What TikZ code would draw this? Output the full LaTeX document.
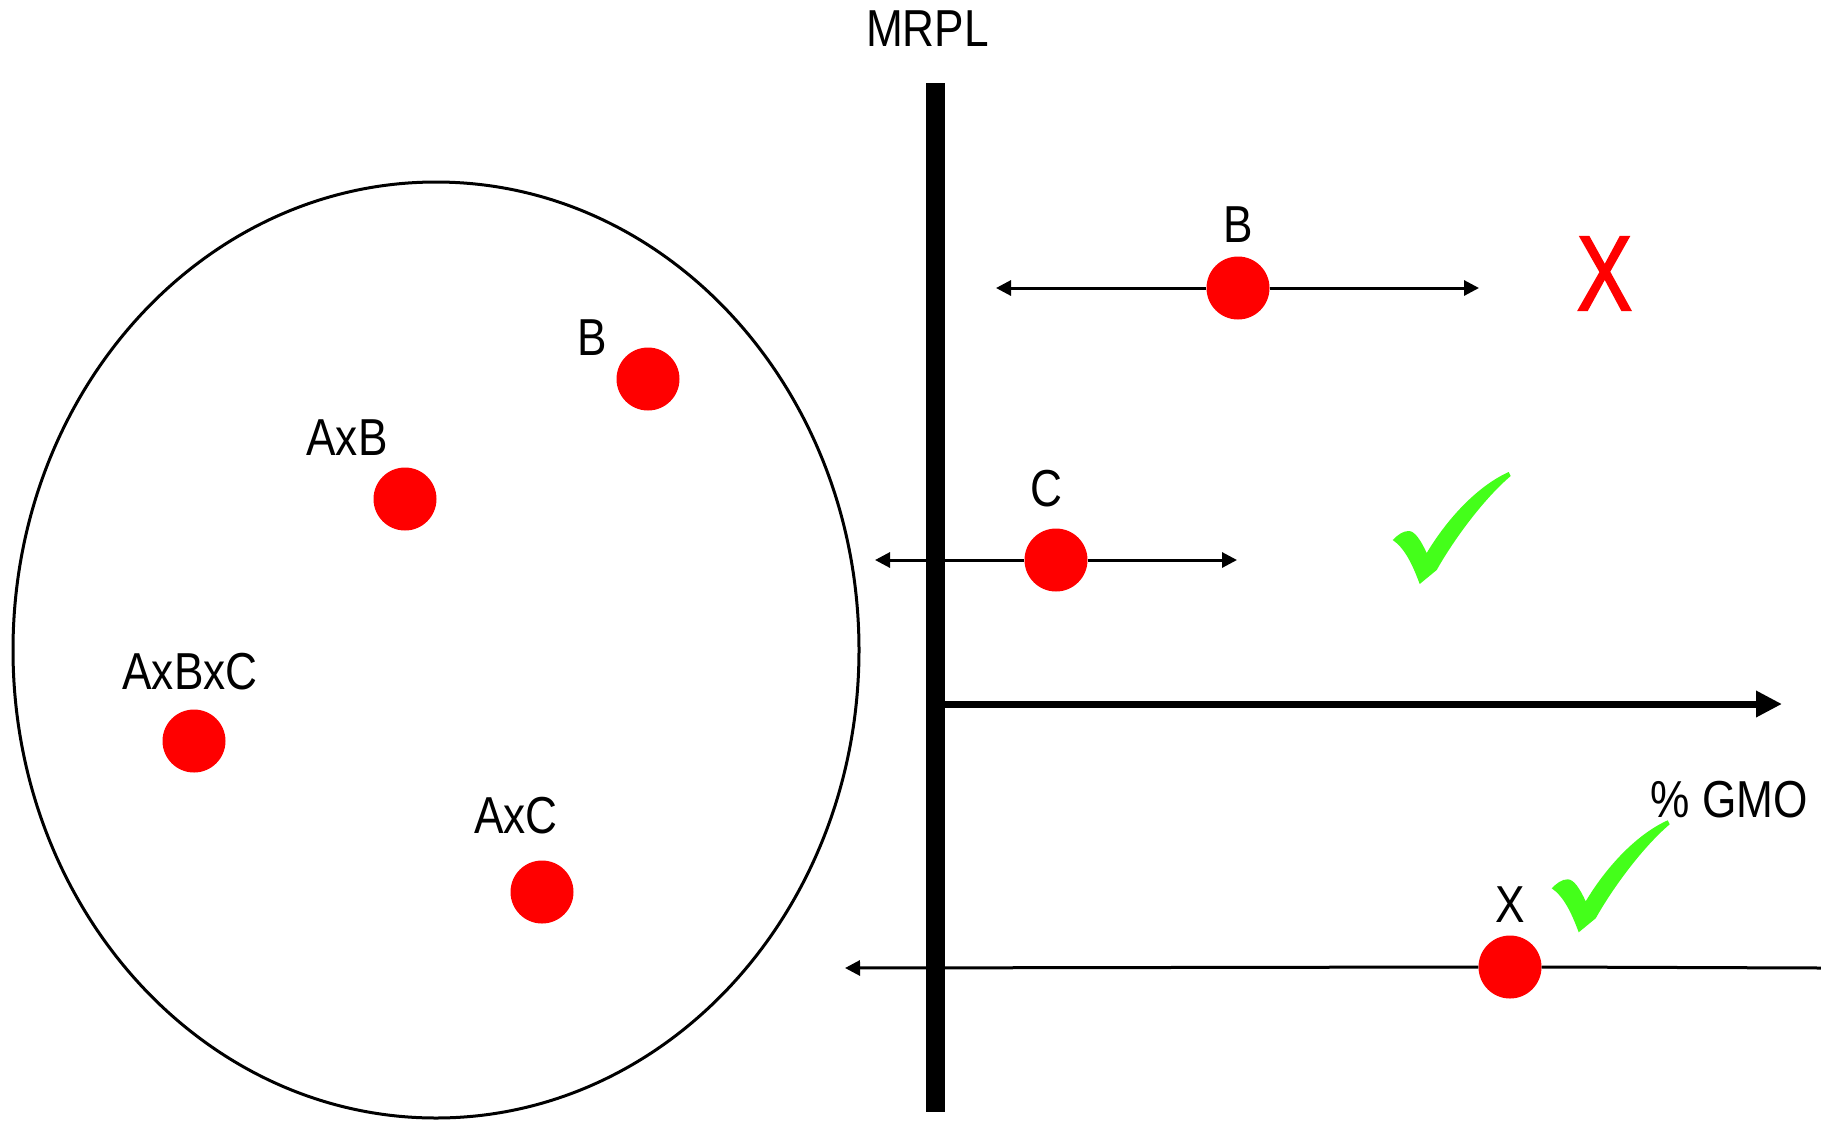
\documentclass[tikz,border=0pt]{standalone}
\usepackage{fontspec}
\setmainfont[FakeStretch=0.85]{Liberation Sans}
\newfontfamily\verdictfont[FakeStretch=0.78,FakeBold=1.6]{Liberation Sans}
\usetikzlibrary{arrows.meta,shapes.geometric}

\definecolor{tickgreen}{RGB}{68,255,26}

\tikzset{
  lbl/.style={inner sep=0pt, font=\fontsize{52pt}{60pt}\selectfont},
  dot/.style={circle, fill=red, inner sep=0pt, minimum size=63pt},
  thin/.style={line width=3pt},
  thinhead/.style={-{Triangle[length=15pt,width=15pt]}},
  pics/tick/.style={code={
    \fill[tickgreen] (0,0) .. controls (5,-5) and (10,-9) .. (16,-9)
      .. controls (22,-9) and (28,0) .. (34,13)
      .. controls (55,-22) and (85,-54) .. (116,-68) -- (118,-64)
      .. controls (92,-42) and (62,-2) .. (44,30) -- (27,44)
      .. controls (20,25) and (12,8) .. (0,0) -- cycle;
  }}
}

\begin{document}
\begin{tikzpicture}[x=1pt,y=-1pt]
  \useasboundingbox (0,0) rectangle (1821,1120);
  \fill[white] (0,0) rectangle (1821,1120);

  % population of candidate events
  \node[draw, ellipse, line width=3pt, inner sep=0pt,
        minimum width=846pt, minimum height=936pt] (pool) at (436,650) {};

  \node[lbl] (lB) at (592,338) {B};
  \node[dot] (pB) at (648,379) {};
  \node[lbl] (lAB) at (347,438) {AxB};
  \node[dot] (pAB) at (405,499) {};
  \node[lbl] (lABC) at (190,672) {AxBxC};
  \node[dot] (pABC) at (194,741) {};
  \node[lbl] (lAC) at (516,816) {AxC};
  \node[dot] (pAC) at (542,892) {};

  % ranges around individual events
  \coordinate (bL) at (996,288);
  \coordinate (bR) at (1479,288);
  \node[dot] (qB) at (1238,288) {};
  \node[lbl] (tB) at (1238,225) {B};
  \draw[thin, thinhead] (qB.west) -- (bL);
  \draw[thin, thinhead] (qB.east) -- (bR);

  \coordinate (cL) at (875,560);
  \coordinate (cR) at (1237,560);
  \node[dot] (qC) at (1056,560) {};
  \node[lbl] (tC) at (1046,489) {C};
  \draw[thin, thinhead] (qC.west) -- (cL);
  \draw[thin, thinhead] (qC.east) -- (cR);

  \coordinate (xL) at (845,968);
  \coordinate (xR) at (1821,968);
  \node[dot] (qX) at (1510,967) {};
  \node[lbl] (tX) at (1510,905) {X};
  \draw[thin, thinhead] (qX.west) -- (xL);
  \draw[thin] (qX.east) -- (xR);

  % MRPL threshold bar and %GMO axis
  \coordinate (barTop) at (935.5,83);
  \coordinate (barBot) at (935.5,1112);
  \draw[line width=19pt] (barTop) -- (barBot);
  \node[lbl] (mrpl) at (927.5,29) {MRPL};

  \coordinate (axL) at (945,704);
  \coordinate (axR) at (1782,704);
  \draw[line width=7pt, -{Triangle[length=26pt,width=25pt]}] (axL) -- (axR);
  \node[lbl] (gmo) at (1729.5,800) {\% GMO};

  % verdicts
  \node[inner sep=0pt, text=red,
        font=\verdictfont\fontsize{107pt}{120pt}\selectfont] (no) at (1604.5,273.5) {X};
  \pic at (1392.7,540) {tick};
  \pic at (1551.7,888.3) {tick};
\end{tikzpicture}
\end{document}
